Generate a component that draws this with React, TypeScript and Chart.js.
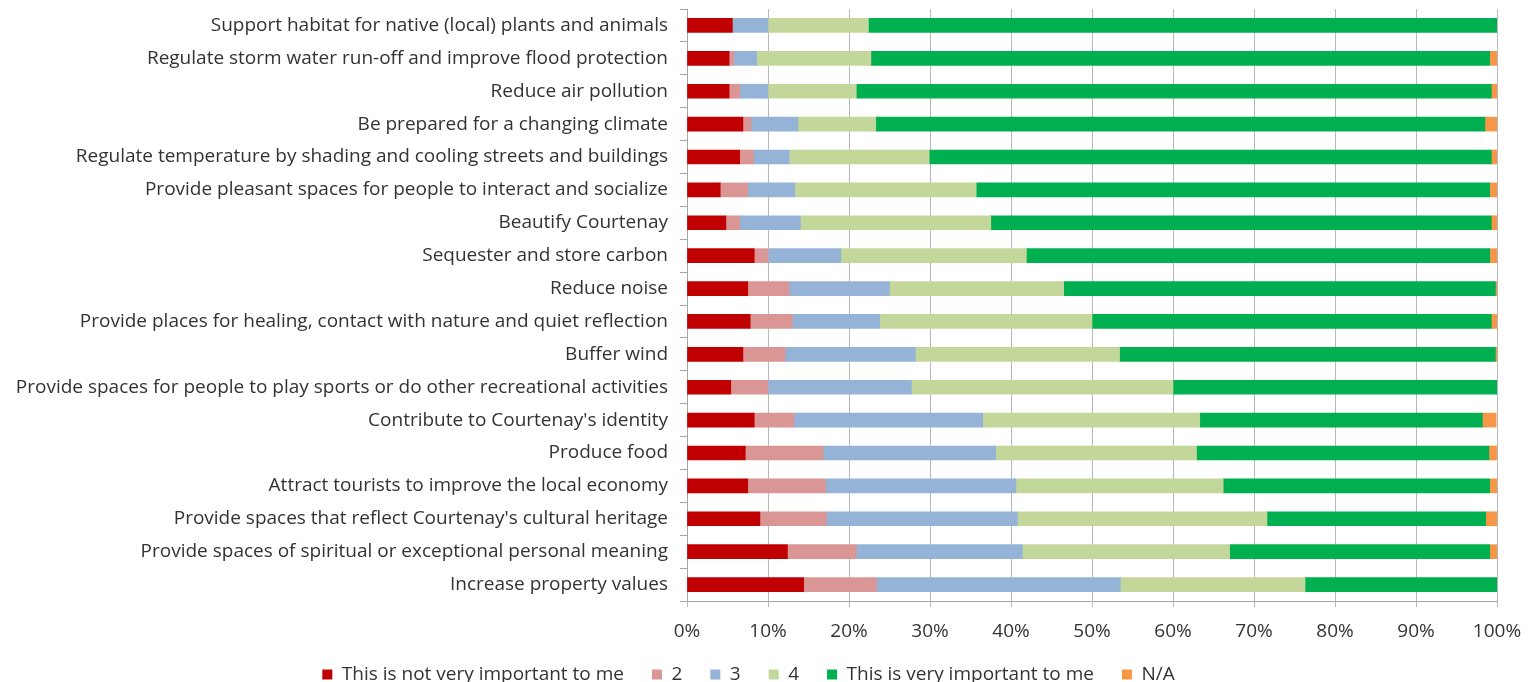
import React, { useEffect, useRef } from "react";
import { Chart, registerables } from "chart.js";

Chart.register(...registerables);

const categories = [
  "Support habitat for native (local) plants and animals",
  "Regulate storm water run-off and improve flood protection",
  "Reduce air pollution",
  "Be prepared for a changing climate",
  "Regulate temperature by shading and cooling streets and buildings",
  "Provide pleasant spaces for people to interact and socialize",
  "Beautify Courtenay",
  "Sequester and store carbon",
  "Reduce noise",
  "Provide places for healing, contact with nature and quiet reflection",
  "Buffer wind",
  "Provide spaces for people to play sports or do other recreational activities",
  "Contribute to Courtenay's identity",
  "Produce food",
  "Attract tourists to improve the local economy",
  "Provide spaces that reflect Courtenay's cultural heritage",
  "Provide spaces of spiritual or exceptional personal meaning",
  "Increase property values",
];

const notImportant = [5.6, 5.2, 5.2, 6.9, 6.5, 4.1, 4.8, 8.3, 7.5, 7.8, 6.9, 5.4, 8.3, 7.2, 7.5, 9.0, 12.4, 14.4];
const rating2 = [0, 0.6, 1.3, 1.0, 1.7, 3.4, 1.7, 1.7, 5.1, 5.2, 5.2, 4.6, 4.9, 9.6, 9.6, 8.2, 8.5, 9.0];
const rating3 = [4.4, 2.8, 3.5, 5.8, 4.4, 5.8, 7.5, 9.0, 12.4, 10.8, 16.1, 17.7, 23.3, 21.3, 23.5, 23.6, 20.5, 30.1];
const rating4 = [12.4, 14.1, 10.9, 9.6, 17.3, 22.4, 23.5, 22.9, 21.5, 26.2, 25.2, 32.3, 26.8, 24.8, 25.6, 30.8, 25.6, 22.8];
const veryImportant = [77.6, 76.4, 78.4, 75.2, 69.4, 63.4, 61.8, 57.2, 53.3, 49.3, 46.4, 40.0, 34.9, 36.1, 32.9, 27.0, 32.1, 23.7];
const notApplicable = [0, 0.95, 0.7, 1.6, 0.7, 0.95, 0.7, 0.95, 0.25, 0.7, 0.25, 0, 1.7, 0.95, 0.95, 1.4, 0.95, 0];

const seriesNames = ["This is not very important to me", "2", "3", "4", "This is very important to me", "N/A"];
const seriesColors = ["#C00000", "#DA9694", "#95B3D7", "#C4D79B", "#00B050", "#F79646"];
const xTickValues = [0, 10, 20, 30, 40, 50, 60, 70, 80, 90, 100];

const FONT = "'Open Sans', 'Liberation Sans', sans-serif";
const TEXT = "#333333";
const LEGEND_HEIGHT = 56;

const fixLegendHeight = {
  id: "fixLegendHeight",
  beforeLayout(chart: any) {
    const lg = chart.legend;
    if (lg && !lg.__patched) {
      const orig = lg.fit.bind(lg);
      lg.fit = function () {
        orig();
        this.height = LEGEND_HEIGHT;
      };
      lg.__patched = true;
    }
  },
};

export default function App() {
  const ref = useRef<HTMLCanvasElement | null>(null);

  useEffect(() => {
    if (!ref.current) return;
    const seriesData = [notImportant, rating2, rating3, rating4, veryImportant, notApplicable];
    const chart = new Chart(ref.current, {
      type: "bar",
      data: {
        labels: categories,
        datasets: seriesData.map((d, i) => ({
          label: seriesNames[i],
          data: d,
          backgroundColor: seriesColors[i],
          borderWidth: 0,
          barThickness: 14,
        })),
      },
      plugins: [fixLegendHeight],
      options: {
        indexAxis: "y",
        responsive: false,
        animation: false,
        layout: { padding: { top: 9, right: 39, left: 0, bottom: 0 } },
        plugins: {
          legend: {
            position: "bottom",
            labels: {
              boxWidth: 10,
              boxHeight: 10,
              padding: 28,
              color: TEXT,
              font: { family: FONT, size: 19 },
            },
          },
          tooltip: { enabled: false },
        },
        scales: {
          x: {
            stacked: true,
            min: 0,
            max: 100,
            afterBuildTicks: (scale: any) => {
              scale.ticks = xTickValues.map((v) => ({ value: v }));
            },
            afterFit: (scale: any) => {
              scale.height = 36;
              scale.paddingLeft = 0;
              scale.paddingRight = 0;
            },
            ticks: {
              color: TEXT,
              font: { family: FONT, size: 19 },
              padding: 13,
              callback: (v: any) => v + "%",
            },
            grid: {
              color: "#b8b8b8",
              lineWidth: 1,
              drawTicks: true,
              tickLength: 6,
            },
            border: { color: "#a6a6a6" },
          },
          y: {
            stacked: true,
            afterFit: (scale: any) => {
              scale.width = 687;
              scale.paddingTop = 0;
              scale.paddingBottom = 0;
            },
            ticks: {
              color: TEXT,
              font: { family: FONT, size: 19 },
              padding: 12,
            },
            grid: {
              offset: true,
              drawOnChartArea: false,
              drawTicks: true,
              tickLength: 7,
              color: "#a6a6a6",
            },
            border: { color: "#a6a6a6" },
          },
        },
      },
    });
    return () => chart.destroy();
  }, []);

  return (
    <div style={{ position: "fixed", left: 0, top: 0, width: 1536, height: 682, overflow: "hidden", background: "#fff" }}>
      <canvas ref={ref} width={1536} height={693} style={{ display: "block" }} />
    </div>
  );
}
